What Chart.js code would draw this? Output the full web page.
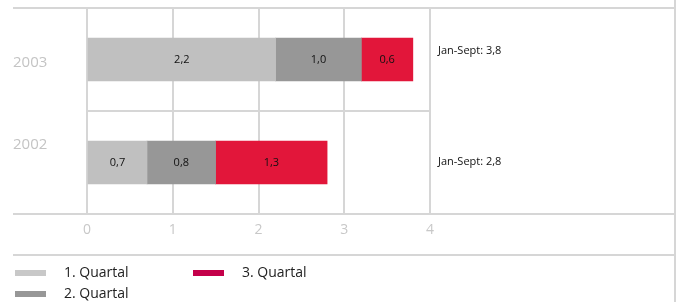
<!DOCTYPE html>
<html>
<head>
<meta charset="utf-8">
<script src="https://cdn.jsdelivr.net/npm/chart.js@4/dist/chart.umd.min.js"></script>
<style>
  html, body { margin: 0; padding: 0; background: #fff; }
  #wrap { width: 679px; height: 302px; position: relative; }
</style>
</head>
<body>
<div id="wrap"><canvas id="c"></canvas></div>
<script>
const years = ['2003', '2002'];
const seriesNames = ['1. Quartal', '2. Quartal', '3. Quartal'];
const q1 = [2.2, 0.7];
const q2 = [1.0, 0.8];
const q3 = [0.6, 1.3];
const xTicks = [0, 1, 2, 3, 4];

const barColors = ['#c0c0c0', '#979797', '#e2163a'];
const legendColors = ['#c8c8c8', '#979797', '#c4004a'];
const lineColor = '#d6d6d6';
const fontFamily = '"Open Sans", "DejaVu Sans", sans-serif';

const fmt = (v) => v.toFixed(1).replace('.', ',');

// draws the frame lines, bar values, totals, year labels and legend
const decor = {
  id: 'decor',
  afterDatasetsDraw(chart) {
    const ctx = chart.ctx;
    const area = chart.chartArea;
    const W = chart.width;
    ctx.save();

    // value labels inside bars
    ctx.fillStyle = '#111';
    ctx.font = '11px ' + fontFamily;
    ctx.textAlign = 'center';
    ctx.textBaseline = 'middle';
    chart.data.datasets.forEach((ds, di) => {
      chart.getDatasetMeta(di).data.forEach((bar, i) => {
        const p = bar.getProps(['x', 'base', 'y'], true);
        ctx.fillText(fmt(ds.data[i]), (p.x + p.base) / 2, p.y);
      });
    });

    // totals right of the plot
    ctx.textAlign = 'left';
    const yScale = chart.scales.y;
    const totalShift = [-9, -1];
    years.forEach((y, i) => {
      const total = q1[i] + q2[i] + q3[i];
      ctx.fillText('Jan-Sept: ' + fmt(total), area.right + 8, yScale.getPixelForValue(i) + totalShift[i]);
    });

    // year labels
    ctx.fillStyle = '#c4c4c4';
    ctx.font = '15px ' + fontFamily;
    const labelShift = [3, -18];
    years.forEach((y, i) => {
      ctx.fillText(y, 13, yScale.getPixelForValue(i) + labelShift[i]);
    });

    // frame lines
    ctx.strokeStyle = lineColor;
    ctx.lineWidth = 2;
    ctx.beginPath();
    ctx.moveTo(13, area.top); ctx.lineTo(W - 4, area.top);
    ctx.moveTo(13, area.bottom); ctx.lineTo(W - 4, area.bottom);
    ctx.moveTo(13, 255); ctx.lineTo(W - 4, 255);
    ctx.moveTo(W - 4, 0); ctx.lineTo(W - 4, chart.height);
    ctx.stroke();

    // legend, two columns
    ctx.font = '14px ' + fontFamily;
    const slots = [[15, 273], [15, 294], [193, 273]];
    seriesNames.forEach((name, i) => {
      const [lx, ly] = slots[i];
      ctx.fillStyle = legendColors[i];
      ctx.fillRect(lx, ly - 3, 31, 6);
      ctx.fillStyle = '#222';
      ctx.fillText(name, lx + 49, ly);
    });

    ctx.restore();
  }
};

new Chart(document.getElementById('c'), {
  type: 'bar',
  data: {
    labels: years,
    datasets: [
      { label: seriesNames[0], data: q1, backgroundColor: barColors[0] },
      { label: seriesNames[1], data: q2, backgroundColor: barColors[1] },
      { label: seriesNames[2], data: q3, backgroundColor: barColors[2] },
    ],
  },
  options: {
    indexAxis: 'y',
    responsive: true,
    maintainAspectRatio: false,
    animation: false,
    events: [],
    barThickness: 43,
    layout: { padding: { left: 13, right: 249, top: 8, bottom: 60 } },
    plugins: { legend: { display: false }, tooltip: { enabled: false } },
    scales: {
      x: {
        stacked: true,
        min: 0,
        max: 4,
        afterBuildTicks: (s) => { s.ticks = xTicks.map((v) => ({ value: v })); },
        afterFit: (s) => { s.height = 28; },
        border: { display: false },
        grid: { color: lineColor, lineWidth: 2, drawTicks: false },
        ticks: { color: '#c8c8c8', padding: 8, font: { family: fontFamily, size: 14 } },
      },
      y: {
        stacked: true,
        afterFit: (s) => { s.width = 74; },
        border: { display: false },
        grid: { color: lineColor, lineWidth: 2, offset: true, drawTicks: false },
        ticks: { display: false },
      },
    },
  },
  plugins: [decor],
});
</script>
</body>
</html>
